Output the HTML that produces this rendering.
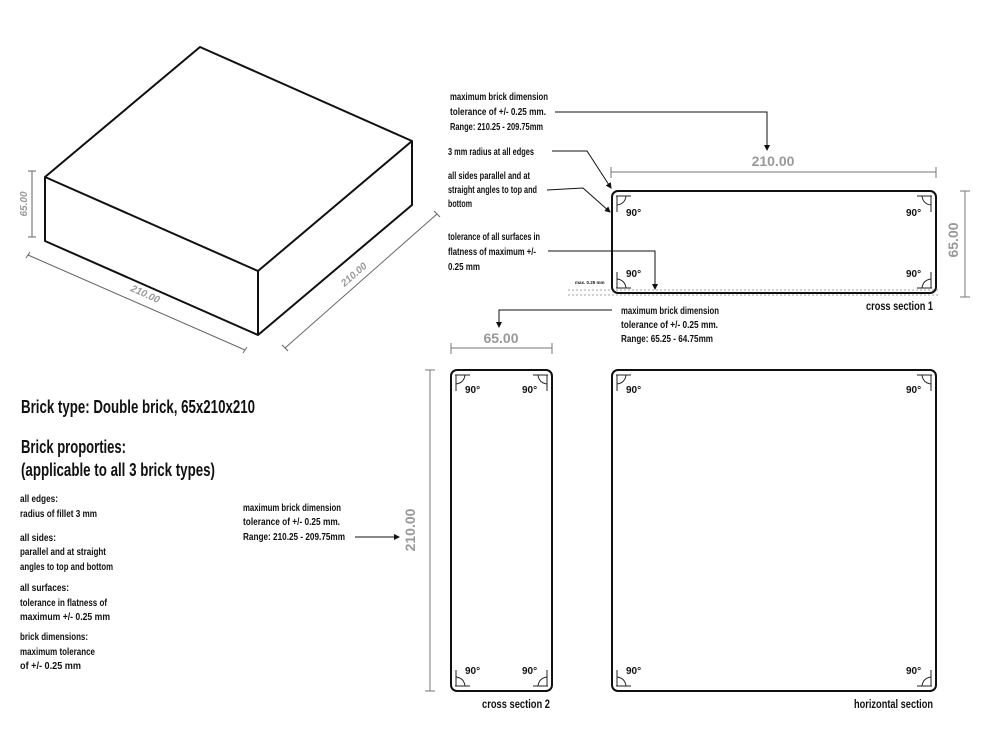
<!DOCTYPE html>
<html><head><meta charset="utf-8"><style>
html,body{margin:0;padding:0;background:#fff;}
svg{display:block;}
text{font-family:"Liberation Sans Narrow","Liberation Sans",sans-serif;font-weight:bold;fill:#111;}
.s{font-size:10px;}
.g{fill:#999;font-family:"Liberation Sans",sans-serif;font-weight:bold;}
</style></head><body>
<svg width="1000" height="750" viewBox="0 0 1000 750" xmlns="http://www.w3.org/2000/svg">
<defs>
<g id="c"><path d="M4 5H19M5 5V21M5 14Q13 13 14 5" fill="none" stroke="#222" stroke-width="1"/></g>
<marker id="ar" markerWidth="6" markerHeight="6" refX="5" refY="3" orient="auto"><path d="M0,0L6,3L0,6z" fill="#111"/></marker>
</defs>
<g fill="none" stroke="#111" stroke-width="2" stroke-linejoin="round">
<path d="M45 177L200 47L412 141L258 271Z"/>
<path d="M45 177V241L258 335V271M258 335L412 205V141"/>
</g>
<g stroke="#666" stroke-width="1" fill="none">
<path d="M32 171V237M28 171H36M28 237H36"/>
<path d="M28 255L245 350M26 258L30 252M243 353L247 347"/>
<path d="M285 348L437 214M282 345L288 351M434 211L440 217"/>
</g>
<text class="g" font-size="10" font-style="italic" transform="translate(27,204) rotate(-90)" text-anchor="middle">65.00</text>
<text class="g" font-size="10" font-style="italic" transform="translate(144,297) rotate(24)" text-anchor="middle">210.00</text>
<text class="g" font-size="10" font-style="italic" transform="translate(356,277) rotate(-41)" text-anchor="middle">210.00</text>

<text x="21" y="413" font-size="18" textLength="234" lengthAdjust="spacingAndGlyphs">Brick type: Double brick, 65x210x210</text>
<text x="21" y="453" font-size="18" textLength="105" lengthAdjust="spacingAndGlyphs">Brick proporties:</text>
<text x="21" y="476" font-size="18" textLength="194" lengthAdjust="spacingAndGlyphs">(applicable to all 3 brick types)</text>
<g class="s">
<text x="20" y="502" textLength="38" lengthAdjust="spacingAndGlyphs">all edges:</text>
<text x="20" y="517" textLength="77" lengthAdjust="spacingAndGlyphs">radius of fillet 3 mm</text>
<text x="20" y="541" textLength="36" lengthAdjust="spacingAndGlyphs">all sides:</text>
<text x="20" y="555" textLength="86" lengthAdjust="spacingAndGlyphs">parallel and at straight</text>
<text x="20" y="570" textLength="93" lengthAdjust="spacingAndGlyphs">angles to top and bottom</text>
<text x="20" y="591" textLength="49" lengthAdjust="spacingAndGlyphs">all surfaces:</text>
<text x="20" y="606" textLength="87" lengthAdjust="spacingAndGlyphs">tolerance in flatness of</text>
<text x="20" y="620" textLength="90" lengthAdjust="spacingAndGlyphs">maximum +/- 0.25 mm</text>
<text x="20" y="640" textLength="68" lengthAdjust="spacingAndGlyphs">brick dimensions:</text>
<text x="20" y="655" textLength="75" lengthAdjust="spacingAndGlyphs">maximum tolerance</text>
<text x="20" y="669" textLength="61" lengthAdjust="spacingAndGlyphs">of +/- 0.25 mm</text>
</g>

<g class="s">
<text x="450" y="100" textLength="98" lengthAdjust="spacingAndGlyphs">maximum brick dimension</text>
<text x="450" y="115" textLength="96" lengthAdjust="spacingAndGlyphs">tolerance of +/- 0.25 mm.</text>
<text x="450" y="130" textLength="93" lengthAdjust="spacingAndGlyphs">Range: 210.25 - 209.75mm</text>
<text x="448" y="155" textLength="86" lengthAdjust="spacingAndGlyphs">3 mm radius at all edges</text>
<text x="448" y="179" textLength="82" lengthAdjust="spacingAndGlyphs">all sides parallel and at</text>
<text x="448" y="193" textLength="89" lengthAdjust="spacingAndGlyphs">straight angles to top and</text>
<text x="448" y="207" textLength="24" lengthAdjust="spacingAndGlyphs">bottom</text>
<text x="448" y="240" textLength="92" lengthAdjust="spacingAndGlyphs">tolerance of all surfaces in</text>
<text x="448" y="255" textLength="88" lengthAdjust="spacingAndGlyphs">flatness of maximum +/-</text>
<text x="448" y="270" textLength="32" lengthAdjust="spacingAndGlyphs">0.25 mm</text>
<text x="621" y="314" textLength="98" lengthAdjust="spacingAndGlyphs">maximum brick dimension</text>
<text x="621" y="328" textLength="97" lengthAdjust="spacingAndGlyphs">tolerance of +/- 0.25 mm.</text>
<text x="621" y="342" textLength="92" lengthAdjust="spacingAndGlyphs">Range: 65.25 - 64.75mm</text>
<text x="243" y="511" textLength="98" lengthAdjust="spacingAndGlyphs">maximum brick dimension</text>
<text x="243" y="525" textLength="97" lengthAdjust="spacingAndGlyphs">tolerance of +/- 0.25 mm.</text>
<text x="243" y="540" textLength="102" lengthAdjust="spacingAndGlyphs">Range: 210.25 - 209.75mm</text>
</g>
<g fill="none" stroke="#111" stroke-width="1">
<path d="M555 112H767V150" marker-end="url(#ar)"/>
<path d="M552 151H587L611 188" marker-end="url(#ar)"/>
<path d="M547 190L583 188L610 212" marker-end="url(#ar)"/>
<path d="M548 251H655V289" marker-end="url(#ar)"/>
<path d="M612 310H499V327" marker-end="url(#ar)"/>
<path d="M355 537H399" marker-end="url(#ar)"/>
</g>

<g stroke="#777" stroke-width="1" fill="none">
<path d="M611 172H936M611 167V178M936 167V178"/>
<path d="M965 191V297M960 191H970M960 297H970"/>
<path d="M451 348H552M451 343V354M552 343V354"/>
<path d="M430 370V691M425 370H435M425 691H435"/>
</g>
<g stroke="#888" stroke-width="0.8" stroke-dasharray="2,2" fill="none">
<path d="M568 290H940M568 295H940"/>
</g>
<text x="575" y="284" font-size="4.5">max. 0.25 mm</text>
<text class="g" x="773" y="166" font-size="14" text-anchor="middle">210.00</text>
<text class="g" x="501" y="343" font-size="14" text-anchor="middle">65.00</text>
<text class="g" font-size="14" transform="translate(958,240) rotate(-90)" text-anchor="middle">65.00</text>
<text class="g" font-size="14" transform="translate(415,530) rotate(-90)" text-anchor="middle">210.00</text>

<g fill="none" stroke="#111" stroke-width="2">
<rect x="612" y="191" width="324" height="102" rx="6"/>
<rect x="451" y="370" width="101" height="321" rx="6"/>
<rect x="612" y="370" width="324" height="321" rx="6"/>
</g>
<use href="#c" transform="translate(612,191)"/>
<use href="#c" transform="translate(936,191) scale(-1,1)"/>
<use href="#c" transform="translate(612,293) scale(1,-1)"/>
<use href="#c" transform="translate(936,293) scale(-1,-1)"/>
<use href="#c" transform="translate(451,370)"/>
<use href="#c" transform="translate(552,370) scale(-1,1)"/>
<use href="#c" transform="translate(451,691) scale(1,-1)"/>
<use href="#c" transform="translate(552,691) scale(-1,-1)"/>
<use href="#c" transform="translate(612,370)"/>
<use href="#c" transform="translate(936,370) scale(-1,1)"/>
<use href="#c" transform="translate(612,691) scale(1,-1)"/>
<use href="#c" transform="translate(936,691) scale(-1,-1)"/>
<g class="s">
<text x="626" y="216">90°</text><text x="906" y="216">90°</text>
<text x="626" y="277">90°</text><text x="906" y="277">90°</text>
<text x="465" y="393">90°</text><text x="522" y="393">90°</text>
<text x="465" y="674">90°</text><text x="522" y="674">90°</text>
<text x="626" y="393">90°</text><text x="906" y="393">90°</text>
<text x="626" y="674">90°</text><text x="906" y="674">90°</text>
</g>
<text x="866" y="310" font-size="12" textLength="67" lengthAdjust="spacingAndGlyphs">cross section 1</text>
<text x="482" y="708" font-size="12" textLength="68" lengthAdjust="spacingAndGlyphs">cross section 2</text>
<text x="854" y="708" font-size="12" textLength="79" lengthAdjust="spacingAndGlyphs">horizontal section</text>
</svg>
</body></html>
